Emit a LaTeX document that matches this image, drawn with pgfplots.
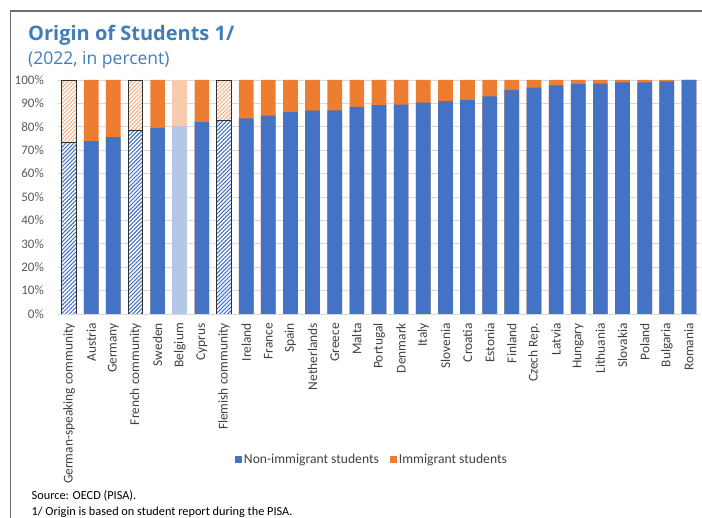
\documentclass[border=0pt]{standalone}
\usepackage{fontspec}
\setmainfont{Carlito}
\newfontfamily\titlefont{Open Sans}
\usepackage{pgfplots}
\usepackage{pgfplotstable}
\pgfplotsset{compat=1.18}
\usetikzlibrary{patterns.meta}
\definecolor{cblue}{HTML}{4472C4}
\definecolor{corange}{HTML}{ED7D31}
\definecolor{lblue}{HTML}{B4C7E7}
\definecolor{lorange}{HTML}{F8CBAD}
\definecolor{horange}{HTML}{F4B183}
\definecolor{titleblue}{HTML}{417DB9}
\definecolor{gridgray}{HTML}{D9D9D9}
\definecolor{labgray}{HTML}{595959}
\definecolor{catgray}{HTML}{404040}
\definecolor{framegray}{HTML}{6E6E6E}
\definecolor{outline}{HTML}{303030}

\pgfplotstableread{
x non imm
1 73.9 26.1
2 75.6 24.4
4 79.5 20.5
6 82.0 18.0
8 83.6 16.4
9 84.8 15.2
10 86.3 13.7
11 86.9 13.1
12 87.0 13.0
13 88.5 11.5
14 89.3 10.7
15 89.5 10.5
16 90.3 9.7
17 91.0 9.0
18 91.5 8.5
19 93.0 7.0
20 95.8 4.2
21 96.7 3.3
22 97.7 2.3
23 98.3 1.7
24 98.4 1.6
25 99.0 1.0
26 99.0 1.0
27 99.4 0.6
28 100.0 0.0
}\normaldata

\pgfplotstableread{
x non imm
5 80.3 19.7
}\belgiumdata

\pgfplotstableread{
x non imm
0 73.1 26.9
3 78.3 21.7
7 82.7 17.3
}\communitydata

\begin{document}
\begin{tikzpicture}
\path[use as bounding box] (0,0) rectangle (702pt,-518pt);
\draw[framegray, line width=1.2pt] (10.5pt,-518pt) -- (10.5pt,-11pt) -- (702pt,-11pt);
\node[anchor=base west, inner sep=0pt, text=titleblue, font=\titlefont\bfseries\fontsize{20}{24}\selectfont] at (28pt,-40.5pt) {Origin of Students 1/};
\node[anchor=base west, inner sep=0pt, text=titleblue, font=\titlefont\fontsize{17.5}{21}\selectfont] at (28pt,-65pt) {(2022, in percent)};
\node[anchor=base west, inner sep=0pt, font=\fontsize{12.3}{14}\selectfont] at (31.5pt,-500pt) {Source: OECD (PISA).};
\node[anchor=base west, inner sep=0pt, font=\fontsize{12.3}{14}\selectfont] at (31.5pt,-515pt) {1/ Origin is based on student report during the PISA.};

\begin{axis}[
  at={(58pt,-314pt)}, anchor=south west,
  scale only axis, width=642pt, height=234pt,
  xmin=-0.5, xmax=28.5, ymin=0, ymax=100,
  axis line style={draw=none},
  tick style={draw=none},
  ymajorgrids, major grid style={gridgray, line width=0.8pt},
  ytick={0,10,...,100},
  yticklabels={0\%,10\%,20\%,30\%,40\%,50\%,60\%,70\%,80\%,90\%,100\%},
  yticklabel style={anchor=east, inner sep=0pt, xshift=-14pt, text=labgray, font=\fontsize{13}{15}\selectfont},
  xtick={0,...,28},
  xticklabels={German-speaking community,Austria,Germany,French community,Sweden,Belgium,Cyprus,Flemish community,Ireland,France,Spain,Netherlands,Greece,Malta,Portugal,Denmark,Italy,Slovenia,Croatia,Estonia,Finland,Czech Rep.,Latvia,Hungary,Lithuania,Slovakia,Poland,Bulgaria,Romania},
  xticklabel style={yshift=-9pt, rotate=90, anchor=east, inner sep=0pt, text=catgray, font=\fontsize{13.4}{16}\selectfont},
  legend image code/.code={\fill[#1] (0pt,-3.5pt) rectangle (7pt,3.5pt);},
  legend style={at={(axis description cs:0.489,-0.62)}, anchor=center, draw=none, fill=none,
    legend columns=2, font=\fontsize{13.6}{16}\selectfont, text=catgray,
    /tikz/every even column/.append style={column sep=9pt},
    nodes={inner xsep=2pt}},
]
\addlegendimage{fill=cblue, draw=none}
\addlegendentry{Non-immigrant students}
\addlegendimage{fill=corange, draw=none}
\addlegendentry{Immigrant students}

% regular countries
\addplot[forget plot, ybar, bar shift=0pt, bar width=14.7pt, fill=corange, draw=none]
  table[x=x, y expr=\thisrow{non}+\thisrow{imm}] {\normaldata};
\addplot[forget plot, ybar, bar shift=0pt, bar width=14.7pt, fill=cblue, draw=none]
  table[x=x, y=non] {\normaldata};
% Belgium
\addplot[forget plot, ybar, bar shift=0pt, bar width=14.7pt, fill=lorange, draw=none]
  table[x=x, y expr=\thisrow{non}+\thisrow{imm}] {\belgiumdata};
\addplot[forget plot, ybar, bar shift=0pt, bar width=14.7pt, fill=lblue, draw=none]
  table[x=x, y=non] {\belgiumdata};
% communities (hatched)
\addplot[forget plot, ybar, bar shift=0pt, bar width=14.7pt, fill=white, draw=none]
  table[x=x, y expr=\thisrow{non}+\thisrow{imm}] {\communitydata};
\addplot[forget plot, ybar, bar shift=0pt, bar width=14.7pt, draw=outline, line width=0.9pt,
  pattern={Lines[angle=45, distance=2.8pt, line width=1.1pt]}, pattern color=horange]
  table[x=x, y expr=\thisrow{non}+\thisrow{imm}] {\communitydata};
\addplot[forget plot, ybar, bar shift=0pt, bar width=14.7pt, fill=white, draw=none]
  table[x=x, y=non] {\communitydata};
\addplot[forget plot, ybar, bar shift=0pt, bar width=14.7pt, draw=outline, line width=0.9pt,
  pattern={Lines[angle=45, distance=2.8pt, line width=1.1pt]}, pattern color=cblue]
  table[x=x, y=non] {\communitydata};
\end{axis}
\end{tikzpicture}
\end{document}
